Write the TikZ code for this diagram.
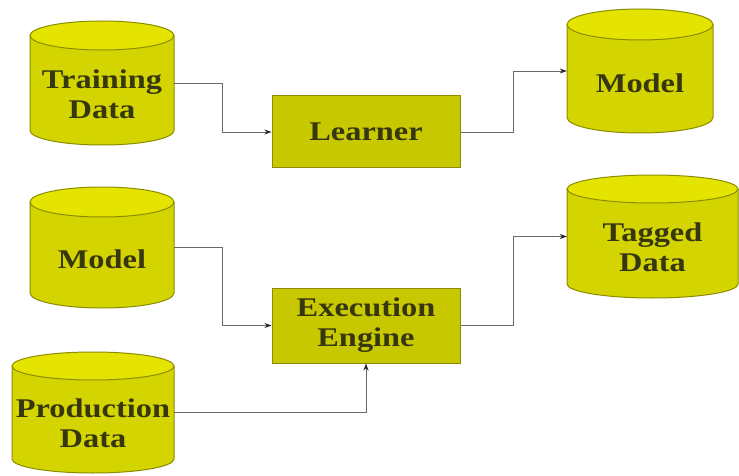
\documentclass[tikz,border=0pt]{standalone}
\usepackage{fontspec}
\setmainfont{Liberation Serif}[FakeStretch=1.2]
\usetikzlibrary{calc,arrows.meta}
\definecolor{cylbody}{RGB}{212,212,0}
\definecolor{cyltop}{RGB}{228,228,0}
\definecolor{boxfill}{RGB}{200,200,0}
\definecolor{olive}{RGB}{140,140,0}
\definecolor{txt}{RGB}{55,55,15}
\definecolor{wire}{RGB}{105,105,105}
\tikzset{
  lbl/.style={font=\fontsize{27}{30}\selectfont\bfseries, text=txt, align=center, inner sep=0pt},
  procbox/.style={draw=olive, line width=1pt, fill=boxfill, inner sep=0pt},
  cylshape/.style={draw=olive, line width=1pt},
  conn/.style={draw=wire, line width=0.9pt, -{Stealth[length=7pt,width=5pt,color=black!85]},
    to path={-| ($(\tikztostart)!.5!(\tikztotarget)$) |- (\tikztotarget)}},
}
% name, xl, xr, ytop, ybot, ry, text
\newcommand\dbcyl[7]{%
  \pgfmathsetmacro\rxx{(#3-#2)/2}%
  \pgfmathsetmacro\xcc{(#2+#3)/2}%
  \fill[cylbody] (#2,#4+#6) -- (#2,#5-#6)
     arc[start angle=180, end angle=0, x radius=\rxx, y radius=#6]
     -- (#3,#4+#6) -- cycle;
  \draw[cylshape] (#2,#4+#6) -- (#2,#5-#6)
     arc[start angle=180, end angle=0, x radius=\rxx, y radius=#6]
     -- (#3,#4+#6);
  \draw[cylshape, fill=cyltop] (\xcc,#4+#6) ellipse[x radius=\rxx, y radius=#6];
  \node[inner sep=0pt, minimum width=#3-#2, minimum height=#5-#4] (#1) at (\xcc,{(#4+#5)/2}) {};
  \node[lbl] at (\xcc,{(#4+2*#6+#5)/2-3}) {#7};
}
\begin{document}
\begin{tikzpicture}[x=1pt,y=-1pt]
\useasboundingbox (0,0) rectangle (739,476);
\fill[white] (0,0) rectangle (739,476);

\dbcyl{td}{30}{174}{21}{145}{14.5}{Training\\Data}
\dbcyl{mt}{567}{713}{9}{133}{15.5}{Model}
\dbcyl{ml}{30}{174}{187}{308}{15}{Model}
\dbcyl{pd}{12}{174}{352}{473}{14}{Production\\Data}
\dbcyl{tg}{567}{738}{175}{298}{14}{Tagged\\Data}

\node[procbox, minimum width=188pt, minimum height=72pt] (lr) at (366,132) {};
\node[lbl] at (lr) {Learner};
\node[procbox, minimum width=188pt, minimum height=75pt] (ee) at (366,325.5) {};
\node[lbl] at (ee) {Execution\\Engine};

\draw[conn] (td.east) to (lr.west);
\draw[conn] (lr.east) to (mt.west);
\draw[conn] (ml.east) to (ee.west);
\draw[conn] (ee.east) to (tg.west);
\draw[draw=wire, line width=0.9pt, -{Stealth[length=7pt,width=5pt,color=black!85]}] (pd.east) -| (ee.south);
\end{tikzpicture}
\end{document}
